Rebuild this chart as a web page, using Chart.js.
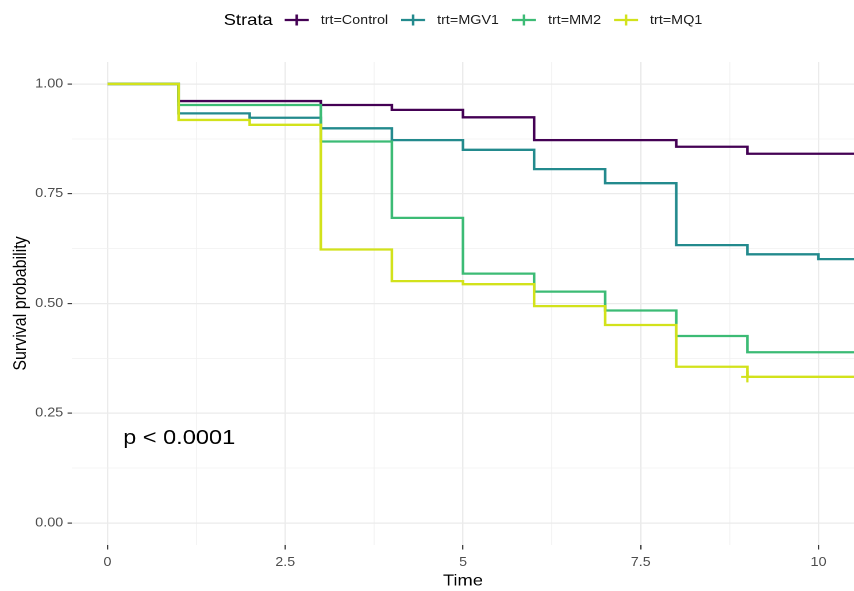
<!DOCTYPE html>
<html>
<head>
<meta charset="utf-8">
<script src="https://cdn.jsdelivr.net/npm/chart.js@4/dist/chart.umd.min.js"></script>
<style>
  html, body { margin: 0; padding: 0; background: #ffffff; overflow: hidden; }
  #wrap { width: 743px; height: 591px; transform: scaleX(1.14939); transform-origin: 0 0; }
</style>
</head>
<body>
<div id="wrap"><canvas id="km" width="743" height="591"></canvas></div>
<script>
// Kaplan-Meier survival estimates by treatment group
const strata = ['trt=Control', 'trt=MGV1', 'trt=MM2', 'trt=MQ1'];
const colors = ['#440154', '#238A8D', '#3CBB75', '#D2E21B'];
const times = [0, 1, 2, 3, 4, 5, 6, 7, 8, 9, 10, 11];
const survControl = [1, 0.961, 0.961, 0.952, 0.941, 0.924, 0.872, 0.872, 0.857, 0.841, 0.841, 0.841];
const survMGV1    = [1, 0.933, 0.923, 0.899, 0.872, 0.850, 0.806, 0.774, 0.633, 0.612, 0.601, 0.601];
const survMM2     = [1, 0.952, 0.952, 0.869, 0.695, 0.568, 0.527, 0.484, 0.426, 0.389, 0.389, 0.389];
const survMQ1     = [1, 0.918, 0.907, 0.623, 0.551, 0.544, 0.494, 0.451, 0.356, 0.333, 0.333, 0.333];
const censorTimesMQ1 = [9];
const censorSurvMQ1  = [0.333];
const xTicks = [0, 2.5, 5, 7.5, 10];
const yTicks = [0, 0.25, 0.5, 0.75, 1];
const pvalLabel = 'p < 0.0001';
const pvalPos = { time: 0.22, surv: 0.2 };

const FONT = '"Liberation Sans", Arial, Helvetica, sans-serif';
const survSeries = [survControl, survMGV1, survMM2, survMQ1];

const isMajor = (v, list) => list.some(t => Math.abs(t - v) < 1e-6);

const datasets = survSeries.map((surv, i) => ({
  label: strata[i],
  data: times.map((t, k) => ({ x: t, y: surv[k] })),
  borderColor: colors[i],
  backgroundColor: colors[i],
  borderWidth: 2.3,
  stepped: 'before',
  pointRadius: 0,
  pointHoverRadius: 0,
  fill: false,
  order: survSeries.length - i
}));

datasets.push({
  label: strata[3] + ' censored',
  data: censorTimesMQ1.map((t, k) => ({ x: t, y: censorSurvMQ1[k] })),
  showLine: false,
  pointStyle: 'cross',
  pointRadius: 5.5,
  pointBorderWidth: 2,
  borderColor: colors[3],
  backgroundColor: colors[3],
  order: 0
});

// Legend row, axis titles and the log-rank p-value
const annotations = {
  id: 'annotations',
  afterDraw(chart) {
    const { ctx, chartArea, scales } = chart;
    ctx.save();

    // legend
    const titleFont = '16px ' + FONT;
    const itemFont = '12.5px ' + FONT;
    const keyW = 20.9, gapTitle = 10.4, gapKey = 10.4, gapItem = 11.3;
    ctx.font = titleFont;
    const titleW = ctx.measureText('Strata').width;
    ctx.font = itemFont;
    const itemW = strata.map(s => ctx.measureText(s).width);
    let total = titleW + gapTitle;
    itemW.forEach((w, i) => { total += keyW + gapKey + w + (i < itemW.length - 1 ? gapItem : 0); });
    let x = (chartArea.left + chartArea.right) / 2 - total / 2;
    const ly = 20;
    ctx.textBaseline = 'middle';
    ctx.textAlign = 'left';
    ctx.fillStyle = '#000000';
    ctx.font = titleFont;
    ctx.fillText('Strata', x, ly + 0.5);
    x += titleW + gapTitle;
    ctx.font = itemFont;
    strata.forEach((s, i) => {
      ctx.strokeStyle = colors[i];
      ctx.lineWidth = 2.2;
      ctx.beginPath();
      ctx.moveTo(x, ly); ctx.lineTo(x + keyW, ly);
      ctx.moveTo(x + keyW / 2, ly - 5.5); ctx.lineTo(x + keyW / 2, ly + 5.5);
      ctx.stroke();
      x += keyW + gapKey;
      ctx.fillStyle = '#1A1A1A';
      ctx.fillText(s, x, ly + 0.5);
      x += itemW[i] + gapItem;
    });

    // axis titles
    ctx.fillStyle = '#000000';
    ctx.font = '16px ' + FONT;
    ctx.textAlign = 'center';
    ctx.textBaseline = 'middle';
    ctx.fillText('Time', (chartArea.left + chartArea.right) / 2, 581);
    ctx.save();
    ctx.translate(18.3, (chartArea.top + chartArea.bottom) / 2);
    ctx.rotate(-Math.PI / 2);
    ctx.fillText('Survival probability', 0, 0);
    ctx.restore();

    // p-value
    ctx.font = '20.5px ' + FONT;
    ctx.textAlign = 'left';
    ctx.textBaseline = 'alphabetic';
    const px = scales.x.getPixelForValue(pvalPos.time);
    const py = scales.y.getPixelForValue(pvalPos.surv);
    ctx.fillText(pvalLabel, px, py + 9);

    ctx.restore();
  }
};

new Chart(document.getElementById('km'), {
  type: 'line',
  data: { datasets },
  options: {
    responsive: false,
    animation: false,
    devicePixelRatio: 2,
    layout: { autoPadding: false, padding: { top: 62, left: 0, right: 0, bottom: 0 } },
    plugins: { legend: { display: false }, tooltip: { enabled: false } },
    scales: {
      x: {
        type: 'linear',
        min: -0.5,
        max: 10.5,
        border: { display: false },
        grid: {
          color: c => isMajor(c.tick.value, xTicks) ? '#EBEBEB' : '#F1F1F1',
          lineWidth: c => isMajor(c.tick.value, xTicks) ? 1.2 : 0.8,
          tickColor: c => isMajor(c.tick.value, xTicks) ? '#333333' : 'rgba(0,0,0,0)',
          tickLength: 4.5,
          tickWidth: 1.1
        },
        ticks: {
          stepSize: 1.25,
          includeBounds: false,
          autoSkip: false,
          maxRotation: 0,
          padding: 5.5,
          color: '#4D4D4D',
          font: { family: FONT, size: 12.5 },
          callback: v => isMajor(v, xTicks) ? String(v) : ''
        },
        afterFit: s => { s.height = 46; s.paddingLeft = 0; s.paddingRight = 0; }
      },
      y: {
        type: 'linear',
        min: -0.05,
        max: 1.05,
        border: { display: false },
        grid: {
          color: c => isMajor(c.tick.value, yTicks) ? '#EBEBEB' : '#F1F1F1',
          lineWidth: c => isMajor(c.tick.value, yTicks) ? 1.2 : 0.8,
          tickColor: c => isMajor(c.tick.value, yTicks) ? '#333333' : 'rgba(0,0,0,0)',
          tickLength: 3.8,
          tickWidth: 1.1
        },
        ticks: {
          stepSize: 0.125,
          includeBounds: false,
          autoSkip: false,
          padding: 3.8,
          color: '#4D4D4D',
          font: { family: FONT, size: 12.5 },
          callback: v => isMajor(v, yTicks) ? v.toFixed(2) : ''
        },
        afterFit: s => { s.width = 62.6; s.paddingTop = 0; s.paddingBottom = 0; }
      }
    }
  },
  plugins: [annotations]
});
</script>
</body>
</html>
